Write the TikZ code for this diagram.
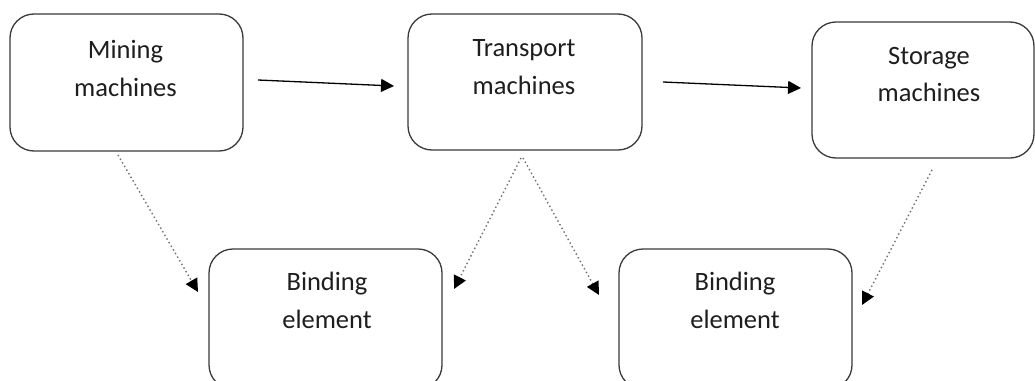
\documentclass[tikz,border=0pt]{standalone}
\usepackage{fontspec}
\setmainfont{Carlito}
\usetikzlibrary{arrows.meta}
\definecolor{edge}{HTML}{3A3A3A}
\definecolor{ink}{HTML}{1E1E1E}
\definecolor{dotc}{HTML}{6E6E6E}
\begin{document}
\begin{tikzpicture}[x=1pt,y=-1pt,
  box/.style={draw=edge,line width=1.3pt,rounded corners=24pt,inner sep=0pt},
  lbl/.style={text=ink,font=\fontsize{26.5}{37.5}\selectfont,align=center,inner sep=0pt},
  solidarrow/.style={draw=black,line width=1.3pt,-{Triangle[length=13pt,width=13pt]}},
  dotarrow/.style={draw=dotc,line width=1.4pt,dash pattern=on 1.4pt off 2.8pt,
    -{Triangle[length=13pt,width=13pt,fill=black,color=black]}}]
\clip (0,0) rectangle (1035,380);
\fill[white] (0,0) rectangle (1035,380);
% boxes
\node[box,minimum width=233pt,minimum height=137pt] (mining) at (126.5,82.5) {};
\node[box,minimum width=234pt,minimum height=136pt] (transport) at (525,82) {};
\node[box,minimum width=222pt,minimum height=136pt] (storage) at (923,90) {};
\node[box,minimum width=233pt,minimum height=140pt] (bind1) at (325.5,319) {};
\node[box,minimum width=233pt,minimum height=140pt] (bind2) at (735.5,319) {};
% labels
\node[lbl] (mining-t) at (125.5,68.5) {Mining\\machines};
\node[lbl] (transport-t) at (524,67) {Transport\\machines};
\node[lbl] (storage-t) at (929,74.5) {Storage\\machines};
\node[lbl] (bind1-t) at (327,300.5) {Binding\\element};
\node[lbl] (bind2-t) at (735,300.5) {Binding\\element};
% arrow ends
\coordinate (a1s) at (258,80);
\coordinate (a1e) at (394,86);
\coordinate (a2s) at (663,82);
\coordinate (a2e) at (801,88);
\coordinate (d1s) at (118,155);
\coordinate (d1e) at (198,292);
\coordinate (d2s) at (521,158);
\coordinate (d2e) at (454,289);
\coordinate (d3s) at (523,158);
\coordinate (d3e) at (599,295);
\coordinate (d4s) at (932,170);
\coordinate (d4e) at (862,305);
\draw[solidarrow] (a1s) -- (a1e);
\draw[solidarrow] (a2s) -- (a2e);
\draw[dotarrow] (d1s) -- (d1e);
\draw[dotarrow] (d2s) -- (d2e);
\draw[dotarrow] (d3s) -- (d3e);
\draw[dotarrow] (d4s) -- (d4e);
\end{tikzpicture}
\end{document}
